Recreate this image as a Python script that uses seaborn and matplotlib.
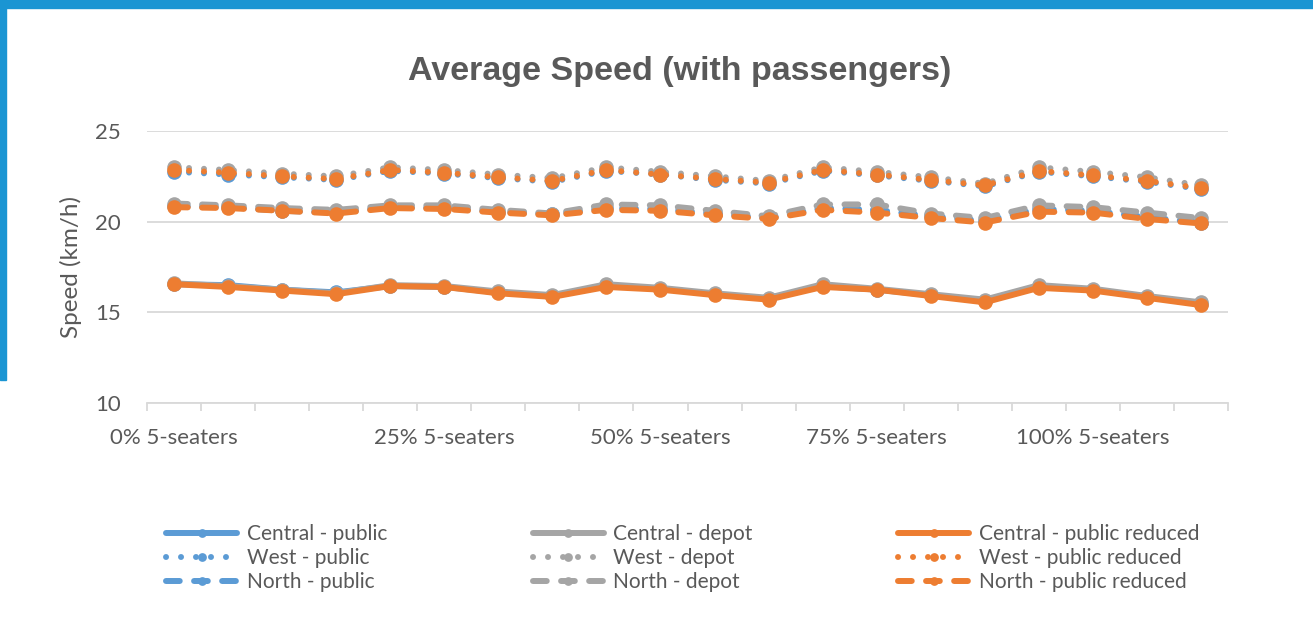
import matplotlib
matplotlib.use("Agg")
import matplotlib.pyplot as plt
from matplotlib.patches import Rectangle
import numpy as np
import pandas as pd
import seaborn as sns

# Category axis: 20 scenarios, labelled at the start of each 5-seater share
x_labels = ["0% 5-seaters", "", "", "", "", "25% 5-seaters", "", "", "",
            "50% 5-seaters", "", "", "", "75% 5-seaters", "", "", "",
            "100% 5-seaters", "", ""]

central_public = [16.55, 16.5, 16.25, 16.1, 16.45, 16.4, 16.1, 15.9, 16.45, 16.3,
                  16.0, 15.75, 16.45, 16.25, 15.95, 15.6, 16.4, 16.25, 15.85, 15.45]
central_depot = [16.6, 16.45, 16.25, 16.05, 16.5, 16.45, 16.15, 15.95, 16.55, 16.35,
                 16.05, 15.8, 16.55, 16.3, 16.0, 15.7, 16.5, 16.3, 15.9, 15.55]
central_reduced = [16.55, 16.4, 16.2, 16.0, 16.45, 16.4, 16.05, 15.85, 16.4, 16.25,
                   15.95, 15.7, 16.4, 16.25, 15.9, 15.55, 16.35, 16.2, 15.8, 15.4]

west_public = [22.75, 22.6, 22.45, 22.3, 22.8, 22.65, 22.4, 22.2, 22.8, 22.6,
               22.3, 22.1, 22.8, 22.55, 22.25, 21.95, 22.75, 22.5, 22.2, 21.8]
west_depot = [23.0, 22.85, 22.65, 22.5, 23.0, 22.85, 22.6, 22.4, 23.0, 22.75,
              22.5, 22.25, 23.0, 22.75, 22.45, 22.1, 23.0, 22.75, 22.45, 22.0]
west_reduced = [22.85, 22.7, 22.5, 22.35, 22.85, 22.7, 22.45, 22.25, 22.85, 22.6,
                22.35, 22.15, 22.85, 22.6, 22.3, 22.0, 22.8, 22.55, 22.25, 21.85]

north_public = [20.85, 20.8, 20.6, 20.5, 20.8, 20.75, 20.55, 20.4, 20.75, 20.7,
                20.45, 20.2, 20.75, 20.65, 20.3, 20.05, 20.7, 20.6, 20.25, 19.95]
north_depot = [21.0, 20.9, 20.75, 20.65, 20.9, 20.9, 20.65, 20.45, 20.95, 20.9,
               20.6, 20.3, 20.95, 20.95, 20.45, 20.2, 20.9, 20.8, 20.5, 20.2]
north_reduced = [20.8, 20.75, 20.6, 20.45, 20.75, 20.7, 20.5, 20.35, 20.65, 20.6,
                 20.35, 20.15, 20.65, 20.5, 20.2, 19.95, 20.55, 20.5, 20.15, 19.9]

sns.set_theme(style="white")
plt.rcParams["font.family"] = ["Lato", "DejaVu Sans"]

BLUE, GRAY, ORANGE = "#5B9BD5", "#A5A5A5", "#ED7D31"
TEXT = "#595959"
GRID = "#D9D9D9"

LW = 4.3
DOTTED = (0, (0.01, 2.5))
DASHED = (0, (2.3, 2.4))

# drawing order: later series sit on top
series = [
    ("Central - public", central_public, BLUE, "-"),
    ("Central - depot", central_depot, GRAY, "-"),
    ("Central - public reduced", central_reduced, ORANGE, "-"),
    ("West - public", west_public, BLUE, DOTTED),
    ("West - depot", west_depot, GRAY, DOTTED),
    ("West - public reduced", west_reduced, ORANGE, DOTTED),
    ("North - public", north_public, BLUE, DASHED),
    ("North - depot", north_depot, GRAY, DASHED),
    ("North - public reduced", north_reduced, ORANGE, DASHED),
]

fig = plt.figure(figsize=(13.13, 6.35), dpi=100)
fig.patch.set_facecolor("white")
ax = fig.add_axes([147 / 1313, 1 - 403 / 635, (1228 - 147) / 1313, (403 - 131) / 635])

pos = np.arange(len(x_labels))
for name, vals, col, ls in series:
    df = pd.DataFrame({"x": pos, "y": vals})
    sns.lineplot(data=df, x="x", y="y", ax=ax, color=col, linestyle=ls,
                 linewidth=LW, marker="o", markersize=10.5,
                 markeredgecolor=col, markeredgewidth=0,
                 dash_capstyle="round", solid_capstyle="round",
                 solid_joinstyle="round", label=name, legend=False, zorder=3)

ax.set_xlim(-0.5, len(x_labels) - 0.5)
ax.set_ylim(10, 25)
ax.set_yticks([10, 15, 20, 25])
ax.yaxis.grid(True, color=GRID, linewidth=1.3, zorder=0)
ax.xaxis.grid(False)
for s in ["top", "right", "left"]:
    ax.spines[s].set_visible(False)
ax.spines["bottom"].set_color(GRID)
ax.spines["bottom"].set_linewidth(1.3)

ax.set_xticks(pos)
ax.set_xticklabels(x_labels)
ax.set_xticks(np.arange(len(x_labels) + 1) - 0.5, minor=True)
ax.tick_params(axis="x", which="major", length=0, pad=18, labelsize=16, labelcolor=TEXT)
ax.tick_params(axis="x", which="minor", length=6, width=1.3, color=GRID, bottom=True)
ax.tick_params(axis="y", length=0, pad=19, labelsize=16, labelcolor=TEXT)

ax.set_xlabel("")
ax.set_ylabel("Speed (km/h)", fontsize=17.5, color=TEXT, labelpad=9)

fig.text(0.518, 0.888, "Average Speed (with passengers)", ha="center", va="center",
         fontsize=24.5, fontweight="bold", color=TEXT, family="Liberation Sans")

handles, labels = ax.get_legend_handles_labels()
order = [0, 3, 6, 1, 4, 7, 2, 5, 8]
leg = fig.legend([handles[i] for i in order], [labels[i] for i in order],
                 loc="center", bbox_to_anchor=(0.52, 0.121), ncol=3,
                 frameon=False, fontsize=15, handlelength=3.4, handletextpad=0.45,
                 columnspacing=7.0, labelspacing=0.18, markerscale=0.6,
                 labelcolor=TEXT)

# slide frame accents
fig.patches.append(Rectangle((0, 1 - 8 / 635), 1, 8 / 635, transform=fig.transFigure,
                             color="#1A95D3", zorder=10))
fig.patches.append(Rectangle((0, 1 - 380 / 635), 6 / 1313, 380 / 635,
                             transform=fig.transFigure, color="#1A95D3", zorder=10))

fig.savefig("out.png", dpi=100, facecolor="white")
